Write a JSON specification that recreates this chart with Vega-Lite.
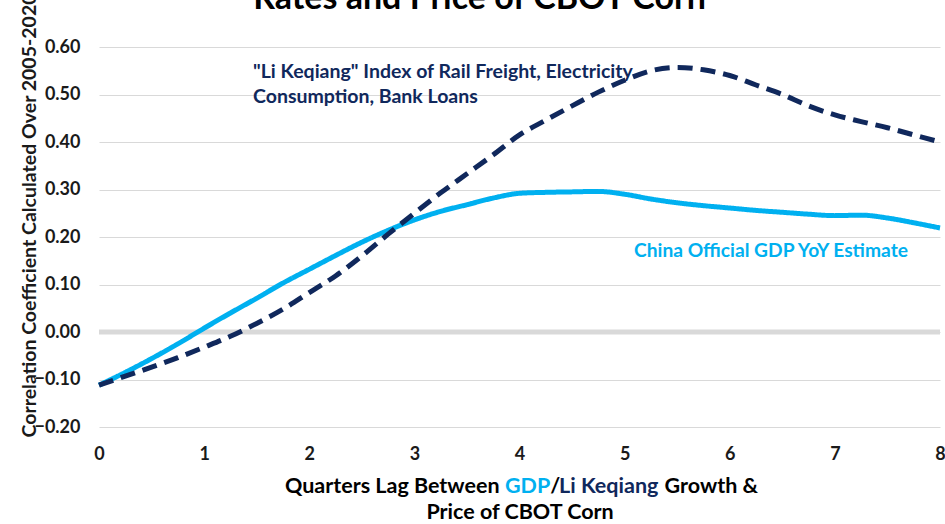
{
  "$schema": "https://vega.github.io/schema/vega-lite/v6.json",
  "width": 841,
  "height": 380,
  "autosize": {"type": "none"},
  "padding": {"left": 99, "top": 47, "right": 5, "bottom": 97},
  "background": "white",
  "config": {"view": {"stroke": null}, "font": "Lato"},
  "title": {"text": "Rates and Price of CBOT Corn", "fontSize": 34, "font": "Lato", "fontWeight": "bold", "color": "#000000", "anchor": "middle", "frame": "group", "dx": -40, "offset": -50, "baseline": "alphabetic"},
  "datasets": {
    "series": [
      {"series": "GDP", "lag": 0, "corr": -0.112},
      {"series": "GDP", "lag": 0.25, "corr": -0.085},
      {"series": "GDP", "lag": 0.5, "corr": -0.056},
      {"series": "GDP", "lag": 0.75, "corr": -0.025},
      {"series": "GDP", "lag": 1, "corr": 0.008},
      {"series": "GDP", "lag": 1.25, "corr": 0.04},
      {"series": "GDP", "lag": 1.5, "corr": 0.071},
      {"series": "GDP", "lag": 1.75, "corr": 0.103},
      {"series": "GDP", "lag": 2, "corr": 0.132},
      {"series": "GDP", "lag": 2.25, "corr": 0.161},
      {"series": "GDP", "lag": 2.5, "corr": 0.189},
      {"series": "GDP", "lag": 2.75, "corr": 0.214},
      {"series": "GDP", "lag": 3, "corr": 0.236},
      {"series": "GDP", "lag": 3.25, "corr": 0.254},
      {"series": "GDP", "lag": 3.5, "corr": 0.268},
      {"series": "GDP", "lag": 3.75, "corr": 0.282},
      {"series": "GDP", "lag": 4, "corr": 0.292},
      {"series": "GDP", "lag": 4.25, "corr": 0.294},
      {"series": "GDP", "lag": 4.5, "corr": 0.295},
      {"series": "GDP", "lag": 4.75, "corr": 0.296},
      {"series": "GDP", "lag": 5, "corr": 0.29},
      {"series": "GDP", "lag": 5.25, "corr": 0.28},
      {"series": "GDP", "lag": 5.5, "corr": 0.272},
      {"series": "GDP", "lag": 5.75, "corr": 0.266},
      {"series": "GDP", "lag": 6, "corr": 0.261},
      {"series": "GDP", "lag": 6.25, "corr": 0.256},
      {"series": "GDP", "lag": 6.5, "corr": 0.252},
      {"series": "GDP", "lag": 6.75, "corr": 0.248},
      {"series": "GDP", "lag": 7, "corr": 0.245},
      {"series": "GDP", "lag": 7.25, "corr": 0.246},
      {"series": "GDP", "lag": 7.5, "corr": 0.24},
      {"series": "GDP", "lag": 7.75, "corr": 0.23},
      {"series": "GDP", "lag": 8, "corr": 0.219},
      {"series": "LK", "lag": 0, "corr": -0.112},
      {"series": "LK", "lag": 0.25, "corr": -0.093},
      {"series": "LK", "lag": 0.5, "corr": -0.074},
      {"series": "LK", "lag": 0.75, "corr": -0.054},
      {"series": "LK", "lag": 1, "corr": -0.032},
      {"series": "LK", "lag": 1.25, "corr": -0.009},
      {"series": "LK", "lag": 1.5, "corr": 0.018},
      {"series": "LK", "lag": 1.75, "corr": 0.048},
      {"series": "LK", "lag": 2, "corr": 0.083},
      {"series": "LK", "lag": 2.25, "corr": 0.118},
      {"series": "LK", "lag": 2.5, "corr": 0.16},
      {"series": "LK", "lag": 2.75, "corr": 0.206},
      {"series": "LK", "lag": 3, "corr": 0.25},
      {"series": "LK", "lag": 3.25, "corr": 0.293},
      {"series": "LK", "lag": 3.5, "corr": 0.333},
      {"series": "LK", "lag": 3.75, "corr": 0.373},
      {"series": "LK", "lag": 4, "corr": 0.415},
      {"series": "LK", "lag": 4.25, "corr": 0.446},
      {"series": "LK", "lag": 4.5, "corr": 0.476},
      {"series": "LK", "lag": 4.75, "corr": 0.505},
      {"series": "LK", "lag": 5, "corr": 0.53},
      {"series": "LK", "lag": 5.25, "corr": 0.55},
      {"series": "LK", "lag": 5.5, "corr": 0.557},
      {"series": "LK", "lag": 5.75, "corr": 0.552},
      {"series": "LK", "lag": 6, "corr": 0.54},
      {"series": "LK", "lag": 6.25, "corr": 0.52},
      {"series": "LK", "lag": 6.5, "corr": 0.5},
      {"series": "LK", "lag": 6.75, "corr": 0.476},
      {"series": "LK", "lag": 7, "corr": 0.457},
      {"series": "LK", "lag": 7.25, "corr": 0.443},
      {"series": "LK", "lag": 7.5, "corr": 0.43},
      {"series": "LK", "lag": 7.75, "corr": 0.415},
      {"series": "LK", "lag": 8, "corr": 0.4}
    ]
  },
  "layer": [
    {
      "data": {"values": [{}]},
      "mark": {"type": "rule", "color": "#d9d9d9", "strokeWidth": 5},
      "encoding": {"y": {"datum": 0}}
    },
    {
      "data": {"name": "series"},
      "mark": {"type": "line", "strokeWidth": 5, "interpolate": "monotone", "strokeCap": "butt"},
      "encoding": {
        "x": {
          "field": "lag", "type": "quantitative",
          "scale": {"domain": [0, 8], "nice": false},
          "axis": {"values": [0, 1, 2, 3, 4, 5, 6, 7, 8], "format": "d", "grid": false, "domain": false, "ticks": false, "labelFont": "Lato", "labelFontSize": 18, "labelFontWeight": "bold", "labelColor": "#1a1a1a", "labelPadding": 18, "labelFlush": false, "title": null}
        },
        "y": {
          "field": "corr", "type": "quantitative",
          "scale": {"domain": [-0.2, 0.6], "nice": false, "zero": false},
          "axis": {"values": [-0.2, -0.1, 0, 0.1, 0.2, 0.3, 0.4, 0.5, 0.6], "format": ".2f", "grid": true, "gridColor": "#d9d9d9", "gridWidth": 1.2, "domain": false, "ticks": false, "labelFont": "Lato", "labelFontSize": 18, "labelFontWeight": "bold", "labelColor": "#1a1a1a", "labelPadding": 19,
            "title": "Correlation Coefficient Calculated Over 2005-2020", "titleFont": "Lato", "titleFontSize": 19.5, "titleFontWeight": "bold", "titleColor": "#1a1a1a", "titleAngle": -90, "titleAlign": "left", "titleBaseline": "middle", "titleX": -70, "titleY": 390}
        },
        "color": {"field": "series", "type": "nominal", "scale": {"domain": ["GDP", "LK"], "range": ["#00b0f0", "#10285c"]}, "legend": null},
        "strokeDash": {"field": "series", "type": "nominal", "scale": {"domain": ["GDP", "LK"], "range": [[1, 0], [15, 8]]}, "legend": null}
      }
    },
    {
      "data": {"values": [{}]},
      "mark": {"type": "text", "text": ["\"Li Keqiang\" Index of Rail Freight, Electricity", "Consumption, Bank Loans"], "font": "Lato", "fontSize": 19.5, "fontWeight": "bold", "color": "#10285c", "align": "left", "baseline": "middle", "lineHeight": 25},
      "encoding": {"x": {"datum": 1.465}, "y": {"datum": 0.548}}
    },
    {
      "data": {"values": [{}]},
      "mark": {"type": "text", "text": "China Official GDP YoY Estimate", "font": "Lato", "fontSize": 19.2, "fontWeight": "bold", "color": "#00b0f0", "align": "left", "baseline": "middle"},
      "encoding": {"x": {"datum": 5.09}, "y": {"datum": 0.17}}
    },
    {
      "data": {"values": [{}]},
      "mark": {"type": "text", "text": "Quarters Lag Between", "font": "Lato", "fontSize": 21.5, "fontWeight": "bold", "color": "#000000", "align": "right", "baseline": "middle"},
      "encoding": {"x": {"datum": 3.81}, "y": {"datum": -0.326}}
    },
    {
      "data": {"values": [{}]},
      "mark": {"type": "text", "text": "GDP", "font": "Lato", "fontSize": 21.5, "fontWeight": "bold", "color": "#00b0f0", "align": "left", "baseline": "middle"},
      "encoding": {"x": {"datum": 3.862}, "y": {"datum": -0.326}}
    },
    {
      "data": {"values": [{}]},
      "mark": {"type": "text", "text": "/", "font": "Lato", "fontSize": 21.5, "fontWeight": "bold", "color": "#000000", "align": "left", "baseline": "middle"},
      "encoding": {"x": {"datum": 4.292}, "y": {"datum": -0.326}}
    },
    {
      "data": {"values": [{}]},
      "mark": {"type": "text", "text": "Li Keqiang", "font": "Lato", "fontSize": 21.5, "fontWeight": "bold", "color": "#10285c", "align": "left", "baseline": "middle"},
      "encoding": {"x": {"datum": 4.376}, "y": {"datum": -0.326}}
    },
    {
      "data": {"values": [{}]},
      "mark": {"type": "text", "text": "Growth &", "font": "Lato", "fontSize": 21.5, "fontWeight": "bold", "color": "#000000", "align": "left", "baseline": "middle"},
      "encoding": {"x": {"datum": 5.38}, "y": {"datum": -0.326}}
    },
    {
      "data": {"values": [{}]},
      "mark": {"type": "text", "text": "Price of CBOT Corn", "font": "Lato", "fontSize": 21.5, "fontWeight": "bold", "color": "#000000", "align": "center", "baseline": "middle"},
      "encoding": {"x": {"datum": 4.005}, "y": {"datum": -0.381}}
    }
  ]
}
